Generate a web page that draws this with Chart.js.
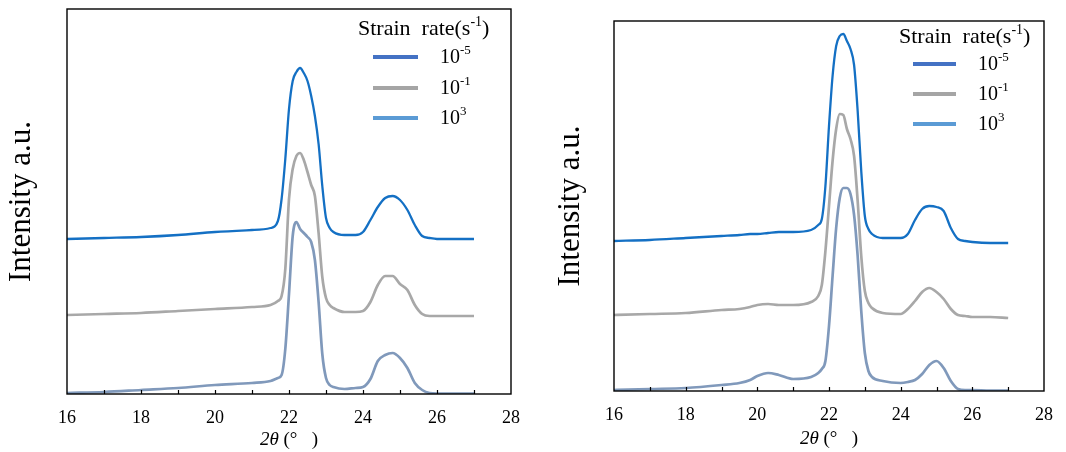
<!DOCTYPE html>
<html>
<head>
<meta charset="utf-8">
<script src="https://cdn.jsdelivr.net/npm/chart.js@4.4.1/dist/chart.umd.min.js"></script>
<style>
  html, body { margin: 0; padding: 0; background: #fff; }
  #wrap { position: relative; width: 1066px; height: 452px; }
  canvas { position: absolute; top: 0; }
  #left { left: 0; }
  #right { left: 533px; }
</style>
</head>
<body>
<div id="wrap">
  <canvas id="left" width="533" height="452"></canvas>
  <canvas id="right" width="533" height="452"></canvas>
</div>
<script>
// strain rates (s^-1): base 10, exponents
const rateNames = ['10^-5', '10^-1', '10^3'];
const rateExp = ['-5', '-1', '3'];
const xTicks = [16, 18, 20, 22, 24, 26, 28];

// left panel, 2theta (deg) and intensity (a.u., offset curves)
const thetaLeft = [16, 17, 18, 19, 20, 21, 21.5, 21.7, 21.8, 21.9,
  22.0, 22.1, 22.2, 22.3, 22.4, 22.5, 22.6, 22.7, 22.8, 22.9, 23.0, 23.1, 23.2,
  23.5, 23.8, 24.0, 24.2, 24.4, 24.6, 24.8, 25.0, 25.2, 25.4, 25.6, 25.8, 26.0, 26.5, 27];
const leftRate5 = [155, 156, 157, 159, 162, 164, 166, 173, 195, 235,
  285, 313, 322, 326, 321, 313, 298, 278, 250, 208, 176, 166, 162,
  159, 159, 162, 174, 187, 196, 198, 194, 184, 169, 158, 156, 155, 155, 155];
const leftRate1 = [79, 80, 81, 83, 85, 87, 89, 93, 98, 125,
  195, 225, 238, 241, 234, 222, 209, 198, 161, 117, 96, 89, 86,
  82, 82, 83, 92, 109, 118, 118, 110, 104, 89, 80, 78, 78, 78, 78];
const leftRate3 = [1, 2, 4, 6, 9, 11, 13, 16, 19, 45,
  100, 158, 172, 165, 161, 157, 152, 134, 92, 40, 16, 9, 7,
  5, 6, 7, 15, 33, 39, 41, 36, 26, 11, 4, 1, 0.5, 0.5, 0.5];

// right panel
const thetaRight = [16, 17, 18, 19, 19.5, 19.8, 20.0, 20.3, 20.6, 21.0, 21.5, 21.7, 21.8, 21.9,
  22.0, 22.1, 22.2, 22.3, 22.4, 22.5, 22.6, 22.7, 22.8, 22.9, 23.0, 23.1, 23.2,
  23.5, 24.0, 24.2, 24.4, 24.6, 24.8, 25.0, 25.2, 25.4, 25.6, 25.8, 26.0, 26.5, 27];
const rightRate5 = [150, 151, 153, 155, 156, 157, 157, 158, 159, 159, 161, 166, 172, 205,
  265, 315, 345, 355, 357, 350, 342, 326, 280, 220, 175, 162, 157,
  153, 153, 157, 171, 182, 185, 184, 180, 163, 152, 150, 149, 148, 148];
const rightRate1 = [76, 77, 78, 81, 82, 84, 86, 87, 86, 86, 89, 95, 106, 140,
  185, 230, 262, 277, 276, 262, 252, 235, 190, 135, 100, 88, 83,
  78, 77, 82, 90, 99, 103, 99, 92, 82, 76, 75, 74, 74, 73];
const rightRate3 = [1, 2, 3, 6, 8, 11, 15, 18, 16, 12, 14, 18, 22, 30,
  65, 115, 163, 193, 203, 203, 197, 176, 135, 80, 38, 20, 14,
  10, 8, 9, 11, 17, 26, 30, 23, 10, 2, 1, 1, 0.5, 0.5];

const curveColors = ['#1470c4', '#a8a8a8', '#8099bb'];
const curveWidths = [2.3, 2.7, 2.7];
const legendColors = ['#4472c4', '#a5a5a5', '#5b9bd5'];
const SERIF = '"Liberation Serif", "Times New Roman", serif';

// box, inner ticks, axis titles and legend
const deco = {
  id: 'deco',
  afterDatasetsDraw(chart, args, o) {
    const ctx = chart.ctx;
    const a = chart.chartArea;
    const x = chart.scales.x;
    ctx.save();
    ctx.strokeStyle = '#000';
    ctx.lineWidth = 1.4;
    ctx.strokeRect(a.left, a.top, a.right - a.left, a.bottom - a.top);
    ctx.lineWidth = 1.2;
    for (let v = 17; v < 28; v++) {
      const px = Math.round(x.getPixelForValue(v)) + 0.5;
      ctx.beginPath();
      ctx.moveTo(px, a.bottom);
      ctx.lineTo(px, a.bottom - 4);
      ctx.stroke();
    }
    ctx.fillStyle = '#000';

    // y title
    ctx.save();
    ctx.font = '31px ' + SERIF;
    ctx.textAlign = 'center';
    ctx.textBaseline = 'middle';
    ctx.translate(o.yTitleX, (a.top + a.bottom) / 2);
    ctx.rotate(-Math.PI / 2);
    ctx.fillText('Intensity a.u.', 0, 0);
    ctx.restore();

    // x title: 2θ (°  )
    ctx.textBaseline = 'middle';
    ctx.textAlign = 'left';
    const itF = 'italic 19px ' + SERIF, rmF = '19px ' + SERIF;
    ctx.font = itF;
    const w1 = ctx.measureText('2θ').width;
    ctx.font = rmF;
    const rest = ' (°   )';
    const w2 = ctx.measureText(rest).width;
    let sx = (a.left + a.right) / 2 - (w1 + w2) / 2;
    ctx.font = itF;
    ctx.fillText('2θ', sx, o.xTitleY);
    ctx.font = rmF;
    ctx.fillText(rest, sx + w1, o.xTitleY);

    // legend
    const L = o.legend;
    ctx.textBaseline = 'middle';
    ctx.font = '22px ' + SERIF;
    let tx = a.right - L.titleDx;
    const ty = a.top + L.titleDy;
    ctx.fillText('Strain', tx, ty);
    tx += ctx.measureText('Strain  ').width;
    ctx.fillText('rate(s', tx, ty);
    tx += ctx.measureText('rate(s').width;
    ctx.font = '14px ' + SERIF;
    ctx.fillText('-1', tx, ty - 7);
    tx += ctx.measureText('-1').width;
    ctx.font = '22px ' + SERIF;
    ctx.fillText(')', tx, ty);

    rateExp.forEach((e, i) => {
      const ly = a.top + L.rowDy[i];
      ctx.strokeStyle = legendColors[i];
      ctx.lineWidth = 4;
      ctx.beginPath();
      ctx.moveTo(a.right - L.lineX0, ly);
      ctx.lineTo(a.right - L.lineX1, ly);
      ctx.stroke();
      ctx.font = '20px ' + SERIF;
      const lx = a.right - L.textDx;
      ctx.fillText('10', lx, ly + 1);
      const w = ctx.measureText('10').width;
      ctx.font = '13px ' + SERIF;
      ctx.fillText(e, lx + w, ly - 6);
    });
    ctx.restore();
  }
};

function makeChart(id, xs, series, pad, axisH, yMax, decoOpts) {
  return new Chart(document.getElementById(id), {
    type: 'line',
    data: {
      datasets: series.map((s, i) => ({
        label: rateNames[i],
        data: xs.map((t, j) => ({ x: t, y: s[j] })),
        borderColor: curveColors[i],
        borderWidth: curveWidths[i],
        pointRadius: 0,
        cubicInterpolationMode: 'monotone',
        fill: false
      }))
    },
    options: {
      responsive: false,
      animation: false,
      events: [],
      layout: { padding: pad },
      plugins: { legend: { display: false }, tooltip: { enabled: false }, deco: decoOpts },
      scales: {
        x: {
          type: 'linear', min: 16, max: 28,
          afterFit(s) { s.height = axisH; },
          afterBuildTicks(s) { s.ticks = xTicks.map(v => ({ value: v })); },
          grid: { display: false, drawTicks: false },
          border: { display: false },
          ticks: { color: '#000', font: { family: SERIF, size: 18 }, padding: 13, maxRotation: 0, autoSkip: false }
        },
        y: { display: false, min: 0, max: yMax }
      }
    },
    plugins: [deco]
  });
}

makeChart('left', thetaLeft, [leftRate5, leftRate1, leftRate3],
  { left: 67, right: 22, top: 9, bottom: 0 }, 58, 385,
  { yTitleX: 22, xTitleY: 440,
    legend: { titleDx: 153, titleDy: 20, lineX0: 138, lineX1: 93, textDx: 71, rowDy: [48, 79, 109] } });

makeChart('right', thetaRight, [rightRate5, rightRate1, rightRate3],
  { left: 81, right: 22, top: 21, bottom: 0 }, 61, 370,
  { yTitleX: 38, xTitleY: 439,
    legend: { titleDx: 145, titleDy: 16, lineX0: 131, lineX1: 88, textDx: 66, rowDy: [43, 73, 103] } });
</script>
</body>
</html>
